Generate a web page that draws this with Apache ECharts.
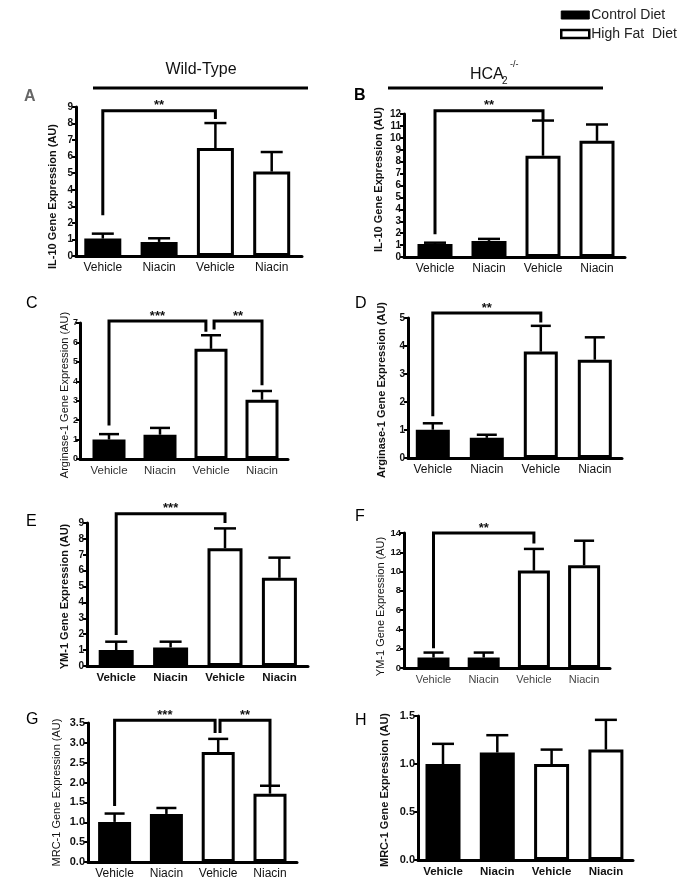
<!DOCTYPE html>
<html><head><meta charset="utf-8">
<script src="https://cdn.jsdelivr.net/npm/echarts@6/dist/echarts.min.js"></script>
<style>html,body{margin:0;padding:0;background:#fff}#c{width:680px;height:881px}</style>
</head><body><div id="c"></div>
<script>
// ---------------- DATA ----------------
const categories = ['Vehicle', 'Niacin', 'Vehicle', 'Niacin'];
const dietNames = ['Control Diet', 'High Fat  Diet'];
const panelLetters = ['A', 'B', 'C', 'D', 'E', 'F', 'G', 'H'];
const yTitles = ['IL-10 Gene Expression (AU)', 'IL-10 Gene Expression (AU)',
  'Arginase-1 Gene Expression (AU)', 'Arginase-1 Gene Expression (AU)',
  'YM-1 Gene Expression (AU)', 'YM-1 Gene Expression (AU)',
  'MRC-1 Gene Expression (AU)', 'MRC-1 Gene Expression (AU)'];
const yMaxes = [9, 12, 7, 5, 9, 14, 3.5, 1.5];
const yIntervals = [1, 1, 1, 1, 1, 2, 0.5, 0.5];
const yDecimals = [0, 0, 0, 0, 0, 0, 1, 1];

const il10WTMean = [1.05, 0.85, 6.52, 5.10];
const il10WTSem  = [0.30, 0.22, 1.51, 1.18];
const il10KOMean = [1.10, 1.35, 8.50, 9.75];
const il10KOSem  = [0.10, 0.17, 2.95, 1.37];
const arg1WTMean = [1.00, 1.25, 5.67, 3.05];
const arg1WTSem  = [0.28, 0.35, 0.70, 0.45];
const arg1KOMean = [1.01, 0.72, 3.80, 3.51];
const arg1KOSem  = [0.23, 0.11, 0.92, 0.80];
const ym1WTMean  = [1.00, 1.17, 7.41, 5.55];
const ym1WTSem   = [0.53, 0.36, 1.25, 1.27];
const ym1KOMean  = [1.08, 1.08, 10.10, 10.65];
const ym1KOSem   = [0.52, 0.52, 2.25, 2.55];
const mrc1WTMean = [1.01, 1.21, 2.77, 1.72];
const mrc1WTSem  = [0.21, 0.15, 0.33, 0.20];
const mrc1KOMean = [1.00, 1.12, 1.00, 1.15];
const mrc1KOSem  = [0.21, 0.18, 0.15, 0.31];

// significance brackets: [fromX, toX, barY, leftLegEndY, rightLegEndY, label]
const sigA = [[0, 2, 8.77, 2.46, 8.28, '**']];
const sigB = [[0, 2, 12.27, 1.9, 11.45, '**']];
const sigC = [[0, 1.90, 7.1, 1.72, 6.55, '***'], [2.06, 3, 7.1, 6.67, 3.8, '**']];
const sigD = [[0, 2, 5.18, 1.49, 4.84, '**']];
const sigE = [[0, 2, 9.59, 1.95, 9.0, '***']];
const sigF = [[0, 2, 14.0, 2.06, 12.9, '**']];
const sigG = [[0, 1.94, 3.57, 1.41, 3.25, '***'], [2.035, 3, 3.57, 3.25, 1.94, '**']];
const sigH = [];

const means = [il10WTMean, il10KOMean, arg1WTMean, arg1KOMean, ym1WTMean, ym1KOMean, mrc1WTMean, mrc1KOMean];
const sems  = [il10WTSem, il10KOSem, arg1WTSem, arg1KOSem, ym1WTSem, ym1KOSem, mrc1WTSem, mrc1KOSem];
const sigs  = [sigA, sigB, sigC, sigD, sigE, sigF, sigG, sigH];

// ---------------- LAYOUT / STYLE ----------------
const FONT = '"Liberation Sans", Arial, Helvetica, sans-serif';
const layout = [
  {L: 76,  R: 302, T: 107, B: 256, a: 102.8, b: 56.3, bw: 37, gap: 18, shift: 15, tb: true,  ts: 10, lm: 3, xs: 12, xb: false, xc: '#111', lx: 30, ly: 98, lc: '#666', lb: true},
  {L: 404, R: 625, T: 114, B: 257, a: 435,   b: 54,   bw: 35, gap: 20, shift: -6, tb: true,  ts: 10, lm: 3, xs: 12, xb: false, xc: '#111', lx: 360, ly: 97, lc: '#000', lb: true},
  {L: 80,  R: 288, T: 323, B: 459, a: 109,   b: 51,   bw: 33, gap: 10, shift: 4,  tb: false, ts: 9,  lm: 2, xs: 11.5, xb: false, xc: '#333', lx: 32, ly: 305, lc: '#000', lb: false},
  {L: 408, R: 622, T: 318, B: 458, a: 432.8, b: 54,   bw: 34, gap: 21, shift: 2,  tb: true,  ts: 10, lm: 3, xs: 12, xb: false, xc: '#111', lx: 361, ly: 305, lc: '#000', lb: false},
  {L: 87,  R: 308, T: 523, B: 666, a: 116.2, b: 54.4, bw: 35, gap: 17, shift: 2,  tb: true,  ts: 10, lm: 3, xs: 11.5, xb: true, xc: '#111', lx: 32, ly: 523, lc: '#000', lb: false},
  {L: 404, R: 610, T: 533, B: 668, a: 433.5, b: 50.2, bw: 32, gap: 18, shift: 6,  tb: false, ts: 9.5, lm: 3, xs: 11, xb: false, xc: '#444', lx: 361, ly: 518, lc: '#000', lb: false},
  {L: 88,  R: 297, T: 723, B: 862, a: 114.6, b: 51.8, bw: 33, gap: 26, shift: 0,  tb: false, ts: 11, lm: 3, xs: 12, xb: false, xc: '#111', lx: 32, ly: 721, lc: '#000', lb: false},
  {L: 418, R: 633, T: 716, B: 860, a: 443,   b: 54.3, bw: 35, gap: 28, shift: 2,  tb: true,  ts: 11, lm: 3, xs: 11.5, xb: true, xc: '#111', lx: 361, ly: 722, lc: '#000', lb: false}
];

const grids = [], xAxes = [], yAxes = [], series = [], graphics = [];

layout.forEach((g, i) => {
  grids.push({left: g.L, top: g.T, width: g.R - g.L, height: g.B - g.T, containLabel: false});
  const xMin = (g.L - g.a) / g.b, xMax = (g.R - g.a) / g.b;
  xAxes.push({
    gridIndex: i, type: 'value', min: xMin, max: xMax,
    axisLine: {show: true, onZero: false, lineStyle: {color: '#000', width: 3}},
    axisTick: {show: false}, splitLine: {show: false},
    axisLabel: {
      customValues: [0, 1, 2, 3], margin: 6,
      formatter: v => categories[Math.round(v)] || '',
      fontFamily: FONT, fontSize: g.xs, fontWeight: g.xb ? 'bold' : 'normal', color: g.xc
    }
  });
  const pad = g.shift >= 0 ? [0, 2 * g.shift, 0, 0] : [0, 0, 0, -2 * g.shift];
  yAxes.push({
    gridIndex: i, type: 'value', min: 0, max: yMaxes[i], interval: yIntervals[i],
    name: yTitles[i], nameLocation: 'middle', nameGap: g.gap, nameMoveOverlap: false,
    nameTextStyle: {fontFamily: FONT, fontSize: 11, fontWeight: g.tb ? 'bold' : 'normal', color: '#111', padding: pad},
    axisLine: {show: true, onZero: false, lineStyle: {color: '#000', width: 3}},
    axisTick: {show: true, length: 4, lineStyle: {color: '#000', width: 2}},
    splitLine: {show: false},
    axisLabel: {
      margin: g.lm, fontFamily: FONT, fontSize: g.ts, fontWeight: 'bold', color: '#111',
      formatter: v => v.toFixed(yDecimals[i])
    }
  });
  const m = means[i], s = sems[i];
  series.push({
    type: 'bar', name: dietNames[0], xAxisIndex: i, yAxisIndex: i,
    barWidth: g.bw, barGap: '-100%', z: 2,
    data: [[0, m[0]], [1, m[1]]],
    itemStyle: {color: '#000', borderColor: '#000', borderWidth: 3}
  });
  series.push({
    type: 'bar', name: dietNames[1], xAxisIndex: i, yAxisIndex: i,
    barWidth: g.bw, barGap: '-100%', z: 2,
    data: [[2, m[2]], [3, m[3]]],
    itemStyle: {color: '#fff', borderColor: '#000', borderWidth: 3}
  });
  const capHalf = Math.round(g.bw * 0.3);
  series.push({
    type: 'custom', xAxisIndex: i, yAxisIndex: i, z: 3, clip: false, silent: true,
    data: m.map((v, k) => [k, v, v + s[k]]),
    encode: {x: 0, y: [1, 2]},
    renderItem(params, api) {
      const x = api.value(0), lo = api.value(1), hi = api.value(2);
      const p0 = api.coord([x, lo]), p1 = api.coord([x, hi]);
      return {type: 'group', children: [
        {type: 'line', shape: {x1: p0[0], y1: p0[1], x2: p1[0], y2: p1[1]}, style: {stroke: '#000', lineWidth: 2.5}},
        {type: 'line', shape: {x1: p1[0] - capHalf, y1: p1[1], x2: p1[0] + capHalf, y2: p1[1]}, style: {stroke: '#000', lineWidth: 2.5}}
      ]};
    }
  });
  const sig = sigs[i];
  if (sig.length) {
    series.push({
      type: 'custom', xAxisIndex: i, yAxisIndex: i, z: 4, clip: false, silent: true,
      data: sig.map(q => [q[0], q[1], q[2], q[3], q[4]]),
      encode: {x: [0, 1], y: [2, 3, 4]},
      renderItem(params, api) {
        const q = sig[params.dataIndex];
        const p1 = api.coord([q[0], q[3]]), p2 = api.coord([q[0], q[2]]);
        const p3 = api.coord([q[1], q[2]]), p4 = api.coord([q[1], q[4]]);
        return {type: 'group', children: [
          {type: 'polyline', shape: {points: [p1, p2, p3, p4]}, style: {stroke: '#000', lineWidth: 3, fill: 'none'}},
          {type: 'text', x: (p2[0] + p3[0]) / 2, y: p2[1] - 5,
           style: {text: q[5], fontFamily: FONT, fontSize: 13, fontWeight: 'bold', fill: '#111', align: 'center', verticalAlign: 'middle'}}
        ]};
      }
    });
  }
  graphics.push({type: 'text', left: g.lx - 6, top: g.ly - 9,
    style: {text: panelLetters[i], fontFamily: FONT, fontSize: 16, fontWeight: g.lb ? 'bold' : 'normal', fill: g.lc}});
});

// headers
graphics.push({type: 'text', x: 201, y: 70, style: {text: 'Wild-Type', fontFamily: FONT, fontSize: 16, fill: '#111', align: 'center', verticalAlign: 'middle'}});
graphics.push({type: 'line', shape: {x1: 93, y1: 88, x2: 308, y2: 88}, style: {stroke: '#000', lineWidth: 3}});
graphics.push({type: 'text', x: 470, y: 75, style: {text: 'HCA', fontFamily: FONT, fontSize: 16, fill: '#111', align: 'left', verticalAlign: 'middle'}});
graphics.push({type: 'text', x: 502, y: 81, style: {text: '2', fontFamily: FONT, fontSize: 10, fill: '#111', align: 'left', verticalAlign: 'middle'}});
graphics.push({type: 'text', x: 510, y: 65, style: {text: '-/-', fontFamily: FONT, fontSize: 9, fill: '#111', align: 'left', verticalAlign: 'middle'}});
graphics.push({type: 'line', shape: {x1: 388, y1: 88, x2: 603, y2: 88}, style: {stroke: '#000', lineWidth: 3}});

const chart = echarts.init(document.getElementById('c'), null, {renderer: 'canvas'});
chart.setOption({
  animation: false,
  backgroundColor: '#fff',
  legend: {
    orient: 'vertical', left: 555, top: 3, icon: 'rect', itemWidth: 28, itemHeight: 8, itemGap: 5,
    selectedMode: false,
    data: [
      {name: dietNames[0], itemStyle: {color: '#000', borderColor: '#000', borderWidth: 1}},
      {name: dietNames[1], itemStyle: {color: '#fff', borderColor: '#000', borderWidth: 2.5}}
    ],
    textStyle: {fontFamily: FONT, fontSize: 14, color: '#222', padding: [0, 0, 0, -3]}
  },
  grid: grids, xAxis: xAxes, yAxis: yAxes, series: series, graphic: graphics
});
</script></body></html>
